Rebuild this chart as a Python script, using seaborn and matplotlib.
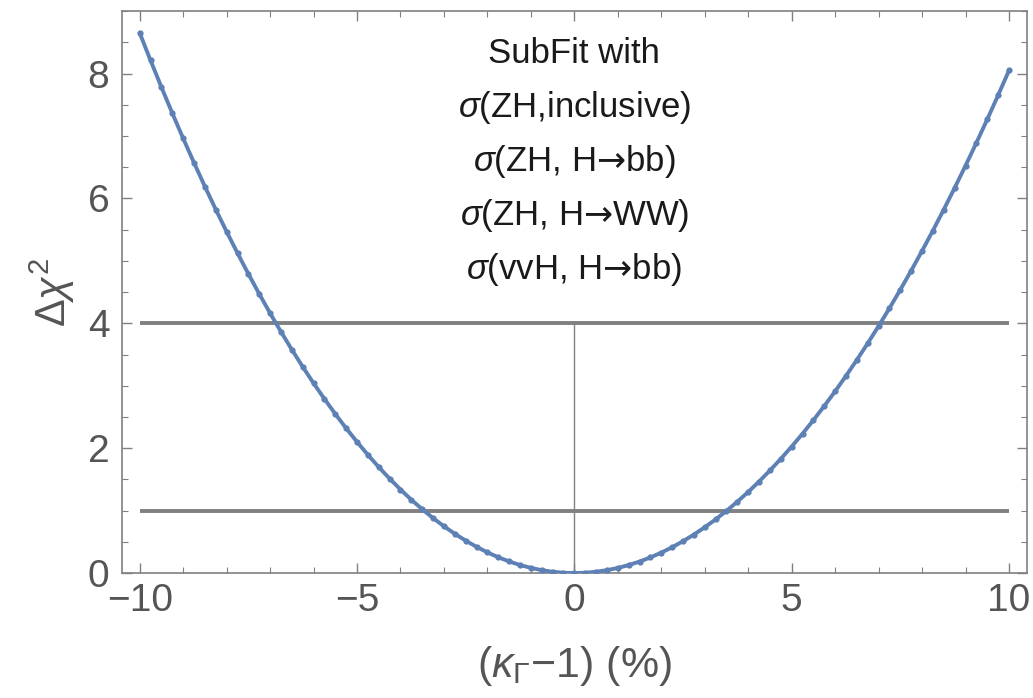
import matplotlib
matplotlib.use('Agg')
import matplotlib.pyplot as plt
import seaborn as sns
import numpy as np
from matplotlib.ticker import MultipleLocator

# Datos: Delta chi^2 frente a (kappa_Gamma - 1) en %
kappa = [-10.0, -9.75, -9.5, -9.25, -9.0, -8.75, -8.5, -8.25, -8.0, -7.75,
         -7.5, -7.25, -7.0, -6.75, -6.5, -6.25, -6.0, -5.75, -5.5, -5.25,
         -5.0, -4.75, -4.5, -4.25, -4.0, -3.75, -3.5, -3.25, -3.0, -2.75,
         -2.5, -2.25, -2.0, -1.75, -1.5, -1.25, -1.0, -0.75, -0.5, -0.25,
         0.0, 0.25, 0.5, 0.75, 1.0, 1.25, 1.5, 1.75, 2.0, 2.25,
         2.5, 2.75, 3.0, 3.25, 3.5, 3.75, 4.0, 4.25, 4.5, 4.75,
         5.0, 5.25, 5.5, 5.75, 6.0, 6.25, 6.5, 6.75, 7.0, 7.25,
         7.5, 7.75, 8.0, 8.25, 8.5, 8.75, 9.0, 9.25, 9.5, 9.75, 10.0]
delta_chi2 = [8.650, 8.210, 7.782, 7.366, 6.962, 6.571, 6.191, 5.823, 5.468, 5.124,
              4.792, 4.471, 4.162, 3.865, 3.579, 3.304, 3.041, 2.789, 2.548, 2.319,
              2.101, 1.893, 1.697, 1.512, 1.338, 1.174, 1.022, 0.880, 0.749, 0.629,
              0.519, 0.420, 0.331, 0.253, 0.186, 0.129, 0.083, 0.046, 0.021, 0.005,
              0.000, 0.005, 0.021, 0.046, 0.082, 0.128, 0.184, 0.250, 0.327, 0.413,
              0.510, 0.616, 0.733, 0.859, 0.996, 1.143, 1.299, 1.466, 1.643, 1.829,
              2.026, 2.232, 2.449, 2.675, 2.911, 3.158, 3.414, 3.680, 3.956, 4.242,
              4.538, 4.844, 5.160, 5.486, 5.823, 6.169, 6.525, 6.891, 7.267, 7.653, 8.050]

# Lineas de referencia (1 sigma y 2 sigma)
ref_levels = [1, 4]
x_range = [-10, 10]

annot_lines = ["SubFit with",
               r"$\sigma$(ZH,inclusive)",
               r"$\sigma$(ZH, H$\mathsf{→}$bb)",
               r"$\sigma$(ZH, H$\mathsf{→}$WW)",
               r"$\sigma$(vvH, H$\mathsf{→}$bb)"]

sns.set_style('ticks')
plt.rcParams['font.family'] = ['Liberation Sans', 'DejaVu Sans']
plt.rcParams['mathtext.fontset'] = 'custom'
plt.rcParams['mathtext.rm'] = 'Liberation Sans'
plt.rcParams['mathtext.it'] = 'Liberation Sans:italic'
plt.rcParams['mathtext.bf'] = 'Liberation Sans:bold'
plt.rcParams['mathtext.sf'] = 'DejaVu Sans'
plt.rcParams['mathtext.fallback'] = 'stixsans'

gris = '#808080'
azul = '#5E81B5'
gris_txt = '#555555'

fig = plt.figure(figsize=(10.33, 6.98), dpi=100)
ax = fig.add_axes([0.118, 0.179, 0.876, 0.805])

# Lineas horizontales y vertical
for lvl in ref_levels:
    ax.plot(x_range, [lvl, lvl], color=gris, lw=2.8, solid_capstyle='butt', zorder=1)
ax.plot([0, 0], [0, ref_levels[1]], color=gris, lw=1.0, zorder=1)

# Curva
sns.lineplot(x=kappa, y=delta_chi2, ax=ax, color=azul, lw=2.8,
             marker='o', markersize=4.5, markeredgewidth=0, zorder=3)

ax.set_xlim(-10.41, 10.41)
ax.set_ylim(0, 9.0)
ax.xaxis.set_major_locator(MultipleLocator(5))
ax.xaxis.set_minor_locator(MultipleLocator(1))
ax.yaxis.set_major_locator(MultipleLocator(2))
ax.yaxis.set_minor_locator(MultipleLocator(0.5))
ax.set_xticks([-10, -5, 0, 5, 10])
ax.set_xticklabels(['−10', '−5', '0', '5', '10'])

ax.tick_params(which='both', direction='in', top=True, right=True,
               color=gris, labelcolor=gris_txt, labelsize=28)
ax.tick_params(which='major', length=7, width=1.0)
ax.tick_params(which='minor', length=4, width=0.8)
ax.tick_params(axis='x', pad=7)
ax.tick_params(axis='y', pad=9)
for sp in ax.spines.values():
    sp.set_color(gris)
    sp.set_linewidth(1.2)

ax.set_xlabel(r"($\kappa_\Gamma$−1) (%)", fontsize=31, color=gris_txt, labelpad=18)
ax.set_ylabel(r"$\Delta\chi^2$", fontsize=30, color=gris_txt, labelpad=8)

# Texto de la anotacion
for i, t in enumerate(annot_lines):
    ax.text(0.5, 0.925 - i * 0.096, t, transform=ax.transAxes, ha='center', va='center',
            fontsize=25, color='#1a1a1a')

plt.savefig('out.png', dpi=100)
plt.close()
